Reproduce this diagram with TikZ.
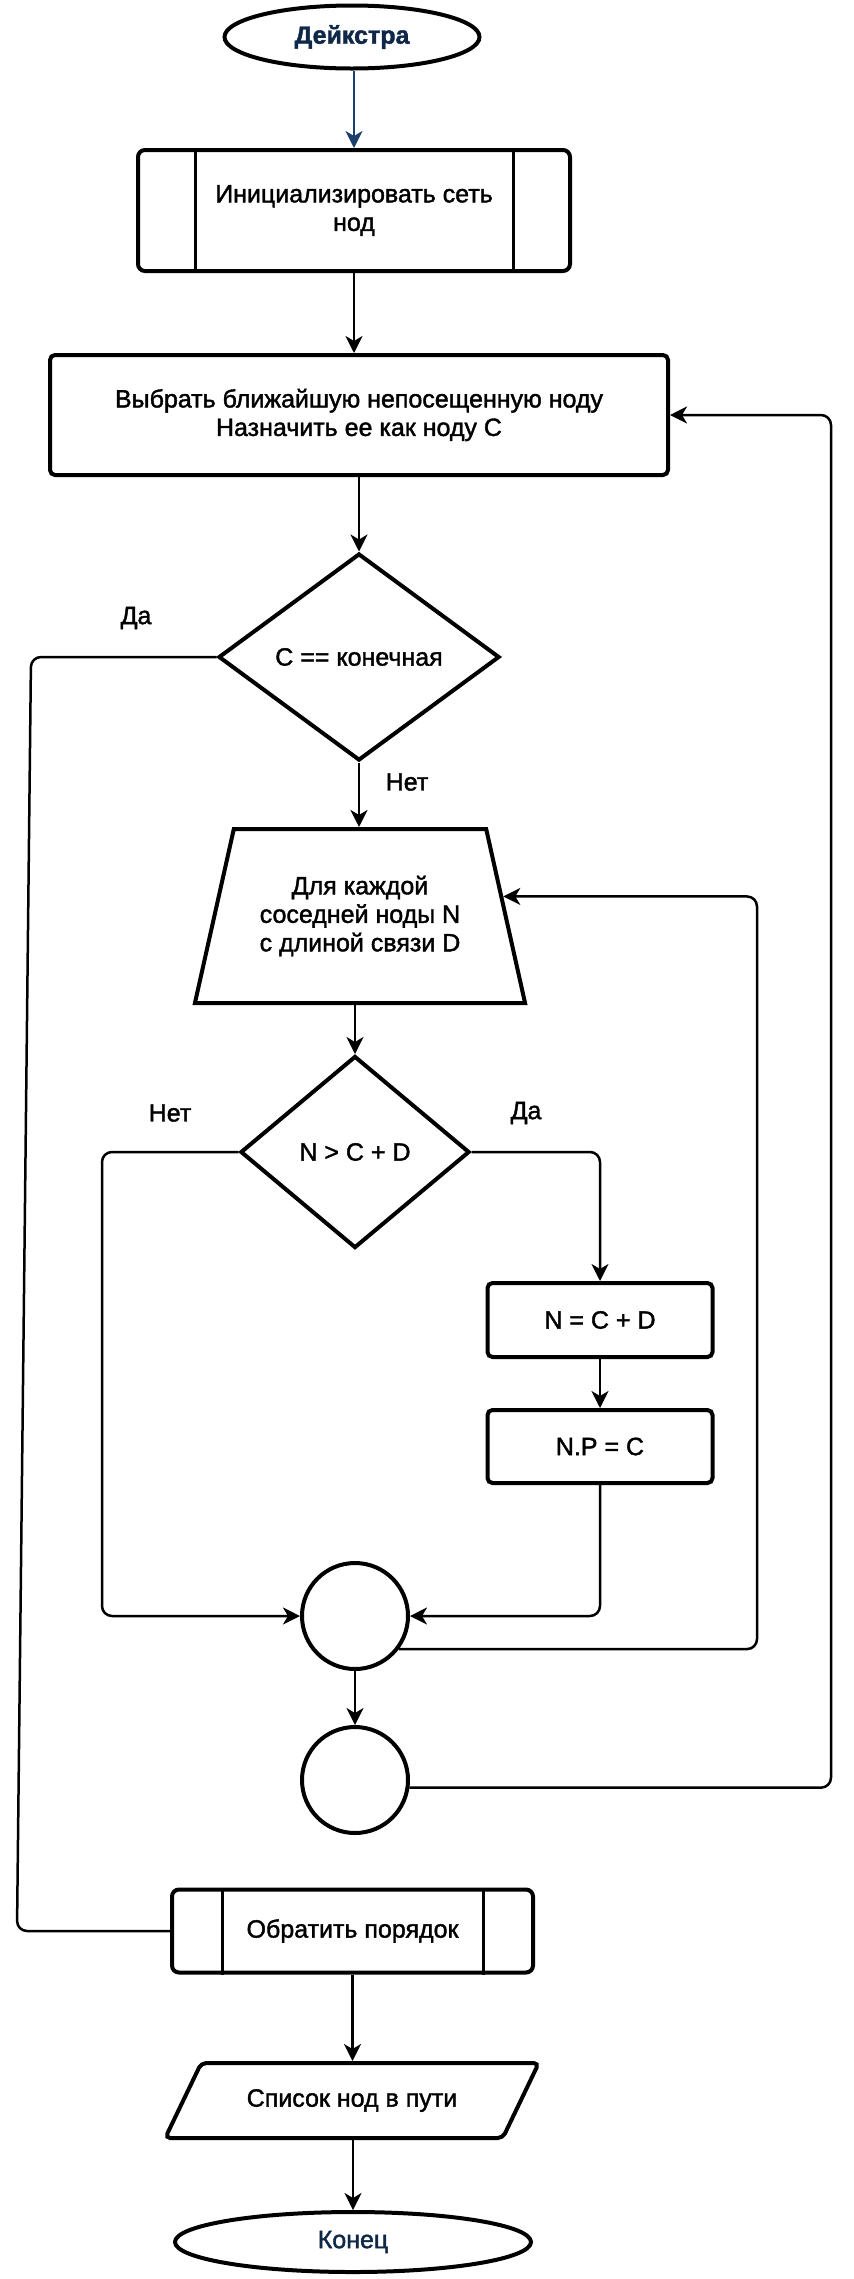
\documentclass[tikz,border=0pt]{standalone}
\usepackage{fontspec}
\setmainfont{Liberation Sans}[FakeBold=1.6]
\usetikzlibrary{shapes.geometric,arrows.meta,calc}
\definecolor{navy}{HTML}{0F2847}
\definecolor{startblue}{HTML}{1B3F6E}

\begin{document}
\begin{tikzpicture}[x=1pt, y=-1pt,
	font=\fontsize{25}{28.5}\selectfont,
	shapeline/.style={draw, line width=4pt, inner sep=0pt, align=center},
	conn/.style={line width=2.5pt, rounded corners=10pt},
	arrow/.style={conn, -{Stealth[length=17pt,width=17pt,inset=5pt]}},
	terminal/.style={shapeline, ellipse},
	process/.style={shapeline, rectangle, rounded corners=5pt},
	subproc/.style={process, rounded corners=7pt},
	decision/.style={shapeline, diamond},
	connector/.style={shapeline, circle, minimum size=106pt}]
	\useasboundingbox (0,0) rectangle (854,2279);

	\node[terminal, minimum width=255pt, minimum height=63pt, text=navy, font=\fontsize{25}{28.5}\selectfont\bfseries] (start) at (352,37) {Дейкстра};%Начало
	\node[subproc, minimum width=432pt, minimum height=121pt] (init) at (354,210.5) {Инициализировать сеть\\нод};
	\draw[line width=3pt] ([xshift=59pt]init.north west) -- ([xshift=59pt]init.south west);
	\draw[line width=3pt] ([xshift=-59pt]init.north east) -- ([xshift=-59pt]init.south east);
	\node[process, minimum width=618pt, minimum height=120pt] (pick) at (359,415) {Выбрать ближайшую непосещенную ноду\\Назначить ее как ноду C};
	\node[decision, minimum width=281pt, minimum height=207pt] (d1) at (359,657) {C == конечная};
	\node[shapeline, trapezium, trapezium left angle=69, trapezium right angle=69, trapezium stretches=true,
		minimum width=331pt, minimum height=174pt] (loop) at (360,916) {Для каждой\\соседней ноды N\\с длиной связи D};%Цикл
	\node[decision, minimum width=229pt, minimum height=192pt] (d2) at (355,1152) {N > C + D};
	\node[process, minimum width=225pt, minimum height=74pt] (upd) at (600,1320) {N = C + D};
	\node[process, minimum width=225pt, minimum height=73pt] (prev) at (600,1446.5) {N.P = C};
	\node[connector] (c1) at (355,1616) {};
	\node[connector] (c2) at (355,1780) {};
	\node[subproc, minimum width=361pt, minimum height=83pt] (rev) at (352.5,1931) {Обратить порядок};
	\draw[line width=3pt] ([xshift=52pt]rev.north west) -- ([xshift=52pt]rev.south west);
	\draw[line width=3pt] ([xshift=-52pt]rev.north east) -- ([xshift=-52pt]rev.south east);
	\node[shapeline, trapezium, trapezium left angle=42, trapezium right angle=138, trapezium stretches=true,
		rounded corners=5pt, minimum width=374pt, minimum height=75pt] (out) at (352,2100.5) {Список нод в пути};%Вывод
	\node[terminal, minimum width=356pt, minimum height=60pt, text=navy] (end) at (353,2242) {Конец};%Конец

	%Подписи
	\node (yes1) at (136,618) {Да};
	\node (no1) at (407,782) {Нет};
	\node (no2) at (170,1113) {Нет};
	\node (yes2) at (526,1113) {Да};

	\coordinate (back1) at ($(loop.top right corner)!0.39!(loop.bottom right corner)$);

	\draw[arrow, draw=startblue] (start.south -| init) -- (init.north);
	\draw[arrow] (init.south) -- (init.south |- pick.north);
	\draw[arrow] (pick.south -| d1) -- (d1.north);
	\draw[arrow] (d1.south) -- (d1.south |- loop.north);
	\draw[conn] (d1.west) -- (31,657) -- (17,1931) -- (rev.west);%Да
	\draw[arrow] (loop.south -| d2) -- (d2.north);
	\draw[arrow] (d2.west) -| (102,1400) |- (c1.west);%Нет
	\draw[arrow] (d2.east) -| (upd.north);%Да
	\draw[arrow] (upd.south) -- (prev.north);
	\draw[arrow] (prev.south) |- (c1.east);
	\draw[arrow] (c1.-37) -| (757,1200) |- (back1);%назад к циклу
	\draw[arrow] (c1.south) -- (c2.north);
	\draw[arrow] (c2.-8) -| (831,1000) |- (pick.east);%следующая нода
	\draw[arrow] (rev.south) -- (rev.south |- out.north);
	\draw[arrow] (out.south -| end) -- (end.north);

\end{tikzpicture}
\end{document}
